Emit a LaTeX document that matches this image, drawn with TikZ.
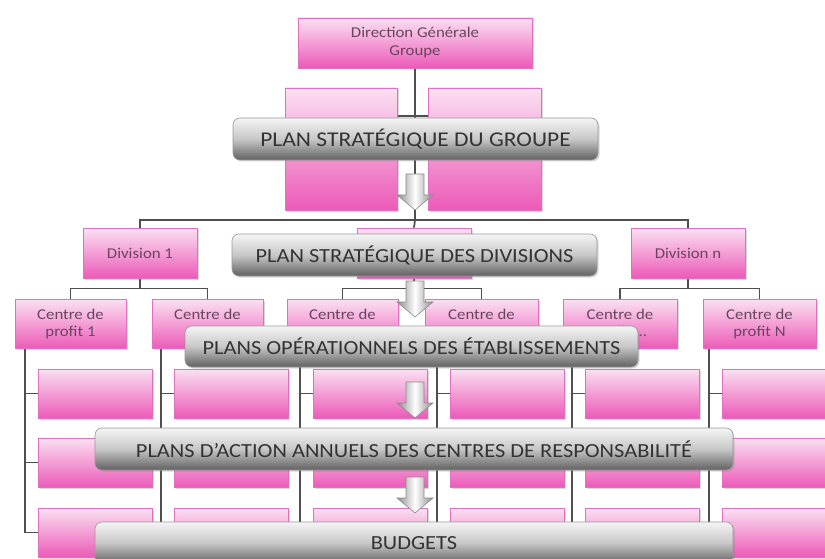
\documentclass[tikz,border=0pt]{standalone}
\usepackage{fontspec}
\setmainfont{Carlito}
\newfontfamily\cfont[FakeStretch=1.12]{Carlito}
\usetikzlibrary{shadows,calc}
\definecolor{pinktop}{HTML}{FBE0F2}
\definecolor{pinkbot}{HTML}{EC5AB8}
\definecolor{pinkline}{HTML}{E070C0}
\definecolor{ptext}{HTML}{6A4560}
\definecolor{btext}{HTML}{333333}
\definecolor{linec}{HTML}{4F4F4F}
\pgfdeclarelayer{bg}
\pgfsetlayers{bg,main}
\newcommand\myblockarrow[1]{\shadedraw[blockarrow] (#1) ++(-9,0) -- ++(18,0) -- ++(0,21) -- ++(9,0) -- ++(-18,15) -- ++(-18,-15) -- ++(9,0) -- cycle;}
\begin{document}
\begin{tikzpicture}[x=1pt,y=-1pt,
  pinkbox/.style={draw=pinkline, line width=0.8pt, top color=pinktop, bottom color=pinkbot,
    minimum width=113pt, minimum height=49pt, inner sep=1pt, align=center, text=ptext,
    font=\cfont\fontsize{15}{17}\selectfont,
    drop shadow={shadow xshift=1.5pt, shadow yshift=-1.5pt, opacity=0.3}},
  banner/.style={draw=black!40, line width=0.6pt, rounded corners=7pt, top color=black!4,
    bottom color=black!62, middle color=black!22, inner sep=0pt, text=btext,
    font=\cfont\fontsize{20}{24}\selectfont,
    drop shadow={shadow xshift=1.5pt, shadow yshift=-1.5pt, opacity=0.3}},
  conn/.style={draw=linec, line width=1.8pt},
  blockarrow/.style={draw=black!45, line width=0.6pt, left color=black!45, right color=black!45, middle color=white}
]
\useasboundingbox (0,0) rectangle (825,559);

% top level
\node[pinkbox, minimum width=234pt, minimum height=50pt, font=\cfont\fontsize{15}{18}\selectfont] (dg) at (415,43) {Direction Générale\\Groupe};
\node[pinkbox, minimum width=112pt, minimum height=122pt] (ga) at (341,149) {};
\node[pinkbox, minimum width=113pt, minimum height=122pt] (gb) at (484.5,149) {};

% divisions
\node[pinkbox, minimum width=114pt, minimum height=50pt] (d1) at (140,253) {Division 1};
\node[pinkbox, minimum width=114pt, minimum height=50pt] (dm) at (414,253) {};
\node[pinkbox, minimum width=114pt, minimum height=50pt] (dn) at (688,253) {Division n};

% profit centres
\node[pinkbox, minimum width=111pt] (c1) at (70.5,324) {Centre de\\profit 1};
\node[pinkbox, minimum width=111pt] (c2) at (207.5,324) {Centre de\\\phantom{profit 1}};
\node[pinkbox, minimum width=111pt] (c3) at (342.5,324) {Centre de\\\phantom{profit 1}};
\node[pinkbox, minimum width=113pt] (c4) at (481.5,324) {Centre de\\\phantom{profit 1}};
\node[pinkbox, minimum width=114pt] (c5) at (620,324) {Centre de\\profit ...};
\node[pinkbox, minimum width=113pt] (c6) at (759.5,324) {Centre de\\profit N};

% lower boxes
\foreach \i/\x in {1/95,2/231.5,3/370,4/507,5/642,6/779}{
  \node[pinkbox, minimum width=114pt] (r\i1) at (\x,393.5) {};
  \node[pinkbox, minimum width=114pt] (r\i2) at (\x,462.5) {};
  \node[pinkbox, minimum width=114pt] (r\i3) at (\x,532.5) {};
}

% connectors
\begin{pgfonlayer}{bg}
  \fill[white] (0,0) rectangle (825,559);
  \coordinate (bus1) at (dg.south |- 0,220);
  \draw[conn] (dg.south) -- (bus1);
  \draw[conn] (d1.north) |- (bus1) -| (dn.north);
  \draw[conn] (bus1) -- (dm.north);
  \draw[conn] (ga.east |- 0,116) -- (gb.west |- 0,116);
  \foreach \d/\a/\b in {d1/c1/c2, dm/c3/c4, dn/c5/c6}{
    \draw[conn] (\d.south) -- ++(0,10);
    \draw[conn] (\a.north) |- ($(\d.south)+(0,10)$) -| (\b.north);
  }
  \foreach \i in {1,...,6}{
    \coordinate (v\i) at ($(r\i1.west)+(-13,0)$);
    \draw[conn] (v\i |- c\i.south) |- (r\i3.west);
    \draw[conn] (v\i) -- (r\i1.west);
    \draw[conn] (v\i |- r\i2.west) -- (r\i2.west);
  }
\end{pgfonlayer}

% banners
\node[banner, minimum width=365pt, minimum height=42pt, font=\cfont\fontsize{21}{24}\selectfont] (b1) at (415.5,139) {PLAN STRATÉGIQUE DU GROUPE};
\node[banner, minimum width=365pt, minimum height=42pt] (b2) at (414.5,255) {PLAN STRATÉGIQUE DES DIVISIONS};
\node[banner, minimum width=453pt, minimum height=41pt] (b3) at (411.5,346.5) {PLANS OPÉRATIONNELS DES ÉTABLISSEMENTS};
\node[banner, minimum width=638pt, minimum height=42pt] (b4) at (414,449) {PLANS D’ACTION ANNUELS DES CENTRES DE RESPONSABILITÉ};
\node[banner, minimum width=638pt, minimum height=42pt] (b5) at (414,543) {BUDGETS};

% block arrows
\coordinate (a1) at (415,174);
\coordinate (a2) at (415,281);
\coordinate (a3) at (415,382);
\coordinate (a4) at (415,477);
\myblockarrow{a1}
\myblockarrow{a2}
\myblockarrow{a3}
\myblockarrow{a4}
\end{tikzpicture}
\end{document}
